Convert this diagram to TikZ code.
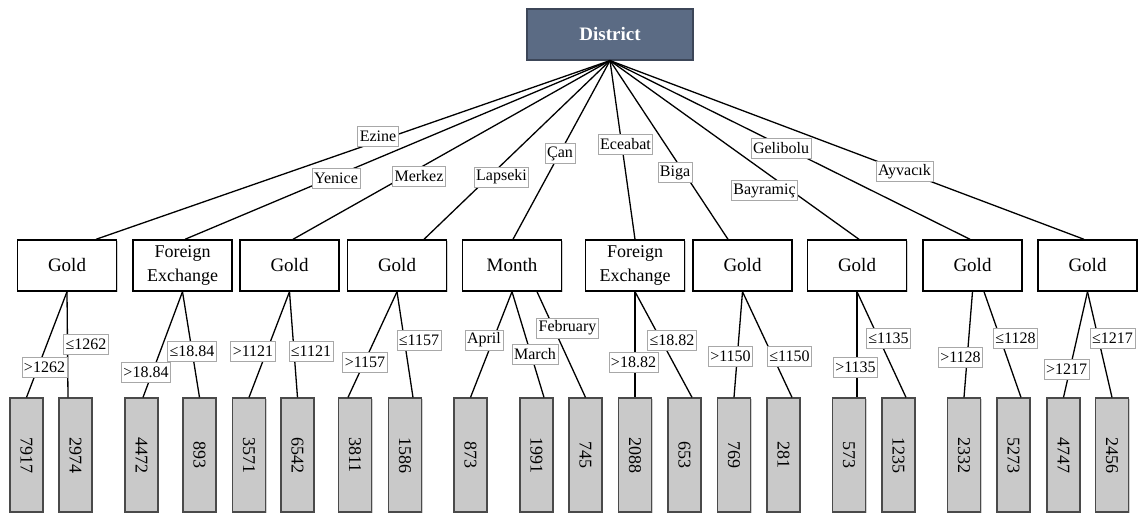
\documentclass[tikz,border=0pt]{standalone}
\usepackage{fontspec}
\usepackage{graphicx}
\setmainfont{Liberation Serif}
\usetikzlibrary{shadows}

\definecolor{rootfill}{HTML}{5B6B84}
\definecolor{rootline}{HTML}{3C4658}
\definecolor{leaffill}{HTML}{C9C9C9}
\definecolor{leafline}{HTML}{4A4A4A}
\definecolor{lblline}{HTML}{A8A8A8}

\tikzset{
  boxshadow/.style={drop shadow={shadow xshift=1.2pt, shadow yshift=-1.2pt, opacity=0.18, fill=black}},
  rootbox/.style={draw=rootline, fill=rootfill, line width=1.2pt, minimum width=166pt,
    minimum height=51pt, inner sep=0pt, text=white,
    font=\fontsize{19}{21}\selectfont\bfseries, boxshadow},
  splitbox/.style={draw=black, fill=white, line width=1.4pt, minimum width=99pt,
    minimum height=51pt, inner sep=0pt, align=center,
    font=\fontsize{19}{21}\selectfont, boxshadow},
  twoline/.style={font=\fontsize{18}{24}\selectfont},
  leafbox/.style={draw=leafline, fill=leaffill, line width=1.2pt, minimum width=33pt,
    minimum height=114pt, inner sep=0pt, font=\fontsize{18}{20}\selectfont, boxshadow},
  edge/.style={draw=black, line width=1.3pt},
  lbl/.style={draw=lblline, fill=white, line width=0.7pt, inner xsep=2pt, inner ysep=0pt,
    minimum height=20pt, font=\fontsize{16}{18}\selectfont},
}

\begin{document}
\begin{tikzpicture}[x=1pt, y=-1pt]
\useasboundingbox (0,0) rectangle (1138,513);

% root
\node[rootbox] (root) at (610,34.5) {District};

% first split level
\node[splitbox] (g1) at (67,265.5)     {Gold};
\node[splitbox, twoline] (fx1) at (182.5,265.5) {Foreign\\Exchange};
\node[splitbox] (g2) at (289.5,265.5)  {Gold};
\node[splitbox] (g3) at (397,265.5)    {Gold};
\node[splitbox] (mo) at (512,265.5)    {Month};
\node[splitbox, twoline] (fx2) at (635,265.5) {Foreign\\Exchange};
\node[splitbox] (g4) at (742.5,265.5)  {Gold};
\node[splitbox] (g5) at (857,265.5)    {Gold};
\node[splitbox] (g6) at (972.5,265.5)  {Gold};
\node[splitbox] (g7) at (1087.5,265.5) {Gold};

% leaves
\node[leafbox] (l7917) at (26.5,455)  {\rotatebox{-90}{7917}};
\node[leafbox] (l2974) at (75.5,455)  {\rotatebox{-90}{2974}};
\node[leafbox] (l4472) at (141.5,455) {\rotatebox{-90}{4472}};
\node[leafbox] (l893)  at (199.5,455) {\rotatebox{-90}{893}};
\node[leafbox] (l3571) at (249,455)   {\rotatebox{-90}{3571}};
\node[leafbox] (l6542) at (297.5,455) {\rotatebox{-90}{6542}};
\node[leafbox] (l3811) at (355,455)   {\rotatebox{-90}{3811}};
\node[leafbox] (l1586) at (405,455)   {\rotatebox{-90}{1586}};
\node[leafbox] (l873)  at (470.5,455) {\rotatebox{-90}{873}};
\node[leafbox] (l1991) at (536.5,455) {\rotatebox{-90}{1991}};
\node[leafbox] (l745)  at (585.5,455) {\rotatebox{-90}{745}};
\node[leafbox] (l2088) at (635,455)   {\rotatebox{-90}{2088}};
\node[leafbox] (l653)  at (684.5,455) {\rotatebox{-90}{653}};
\node[leafbox] (l769)  at (734,455)   {\rotatebox{-90}{769}};
\node[leafbox] (l281)  at (783.5,455) {\rotatebox{-90}{281}};
\node[leafbox] (l573)  at (849,455)   {\rotatebox{-90}{573}};
\node[leafbox] (l1235) at (898.5,455) {\rotatebox{-90}{1235}};
\node[leafbox] (l2332) at (964,455)   {\rotatebox{-90}{2332}};
\node[leafbox] (l5273) at (1013.5,455){\rotatebox{-90}{5273}};
\node[leafbox] (l4747) at (1063.5,455){\rotatebox{-90}{4747}};
\node[leafbox] (l2456) at (1112,455)  {\rotatebox{-90}{2456}};

% district branches
\draw[edge] (root.south) -- ([xshift=29pt]g1.north);
\draw[edge] (root.south) -- ([xshift=2.5pt]fx1.north);
\draw[edge] (root.south) -- ([xshift=3.5pt]g2.north);
\draw[edge] (root.south) -- ([xshift=27pt]g3.north);
\draw[edge] (root.south) -- ([xshift=1pt]mo.north);
\draw[edge] (root.south) -- (fx2.north);
\draw[edge] (root.south) -- ([xshift=-14.5pt]g4.north);
\draw[edge] (root.south) -- ([xshift=2pt]g5.north);
\draw[edge] (root.south) -- ([xshift=-2.5pt]g6.north);
\draw[edge] (root.south) -- ([xshift=-3.5pt]g7.north);

% leaf branches
\draw[edge] (g1.south) -- (l7917.north);
\draw[edge] (g1.south) -- ([xshift=-7.5pt]l2974.north);
\draw[edge] (fx1.south) -- ([xshift=1.5pt]l4472.north);
\draw[edge] (fx1.south) -- (l893.north);
\draw[edge] (g2.south) -- (l3571.north);
\draw[edge] (g2.south) -- (l6542.north);
\draw[edge] (g3.south) -- ([xshift=-7pt]l3811.north);
\draw[edge] (g3.south) -- ([xshift=8pt]l1586.north);
\draw[edge] (mo.south) -- (l873.north);
\draw[edge] (mo.south) -- ([xshift=7.5pt]l1991.north);
\draw[edge] ([xshift=25pt]mo.south) -- (l745.north);
\draw[edge] (fx2.south) -- (l2088.north);
\draw[edge] (fx2.south) -- ([xshift=7.5pt]l653.north);
\draw[edge] (g4.south) -- (l769.north);
\draw[edge] (g4.south) -- ([xshift=8.5pt]l281.north);
\draw[edge] (g5.south) -- ([xshift=8pt]l573.north);
\draw[edge] (g5.south) -- ([xshift=7.5pt]l1235.north);
\draw[edge] (g6.south) -- (l2332.north);
\draw[edge] ([xshift=11.5pt]g6.south) -- ([xshift=7.5pt]l5273.north);
\draw[edge] (g7.south) -- (l4747.north);
\draw[edge] (g7.south) -- (l2456.north);

% branch labels, district level
\node[lbl] (tEzine)    at (378,136)   {Ezine};
\node[lbl] (tYenice)   at (336,178.5) {Yenice};
\node[lbl] (tMerkez)   at (419,176.5) {Merkez};
\node[lbl] (tLapseki)  at (501.5,177) {Lapseki};
\node[lbl] (tCan)      at (560,153.5) {Çan};
\node[lbl] (tEceabat)  at (625.5,144) {Eceabat};
\node[lbl] (tBiga)     at (675,172.5) {Biga};
\node[lbl] (tGelibolu) at (781,148.5) {Gelibolu};
\node[lbl] (tBayramic) at (764.5,190.5) {Bayramiç};
\node[lbl] (tAyvacik)  at (904.5,171.5) {Ayvacık};

% branch labels, second level
\node[lbl] (a1) at (44.5,367)   {>1262};
\node[lbl] (a2) at (86,344.5)   {≤1262};
\node[lbl] (b1) at (146,372)    {>18.84};
\node[lbl] (b2) at (192,351)    {≤18.84};
\node[lbl] (c1) at (253,351)    {>1121};
\node[lbl] (c2) at (311,351)    {≤1121};
\node[lbl] (d1) at (365,362.5)  {>1157};
\node[lbl] (d2) at (419,340.5)  {≤1157};
\node[lbl] (e1) at (484,340)    {April};
\node[lbl] (e2) at (535,354)    {March};
\node[lbl] (e3) at (567.5,328)  {February};
\node[lbl] (f1) at (633.5,362)  {>18.82};
\node[lbl] (f2) at (672,340)    {≤18.82};
\node[lbl] (h1) at (730.5,356.5){>1150};
\node[lbl] (h2) at (789.5,356.5){≤1150};
\node[lbl] (i1) at (855.5,367.5){>1135};
\node[lbl] (i2) at (888.5,338)  {≤1135};
\node[lbl] (j1) at (960.5,357)  {>1128};
\node[lbl] (j2) at (1015.5,338.5){≤1128};
\node[lbl] (k1) at (1066.5,369) {>1217};
\node[lbl] (k2) at (1112.5,338) {≤1217};
\end{tikzpicture}
\end{document}
